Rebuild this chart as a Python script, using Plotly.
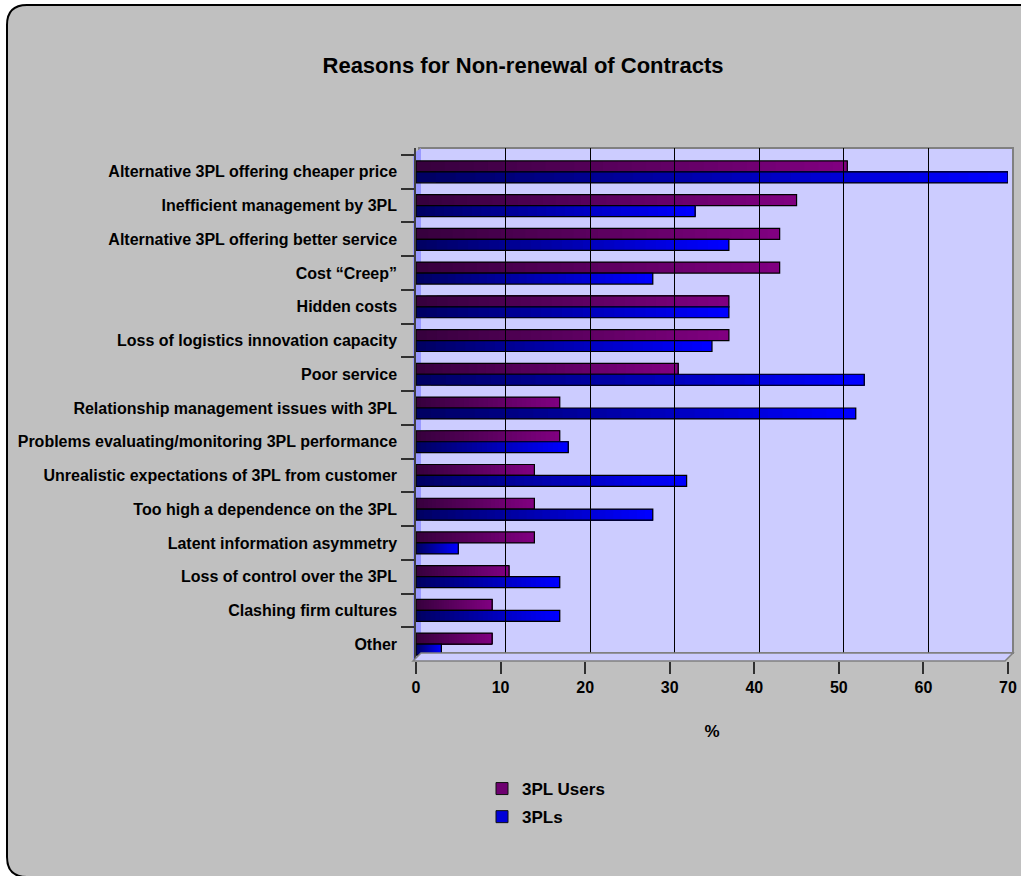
import plotly.graph_objects as go

# ---- data ---------------------------------------------------------------
reasons = [
    "Alternative 3PL offering cheaper price",
    "Inefficient management by 3PL",
    "Alternative 3PL offering better service",
    "Cost \u201cCreep\u201d",
    "Hidden costs",
    "Loss of logistics innovation capacity",
    "Poor service",
    "Relationship management issues with 3PL",
    "Problems evaluating/monitoring 3PL performance",
    "Unrealistic expectations of 3PL from customer",
    "Too high a dependence on the 3PL",
    "Latent information asymmetry",
    "Loss of control over the 3PL",
    "Clashing firm cultures",
    "Other",
]
users_pct = [51, 45, 43, 43, 37, 37, 31, 17, 17, 14, 14, 14, 11, 9, 9]
providers_pct = [70, 33, 37, 28, 37, 35, 53, 52, 18, 32, 28, 5, 17, 17, 3]
x_ticks = [0, 10, 20, 30, 40, 50, 60, 70]

series = [
    ("3PL Users", users_pct, (55, 0, 62), (128, 0, 128)),
    ("3PLs", providers_pct, (0, 0, 100), (0, 0, 255)),
]

# ---- page geometry (pixels) ---------------------------------------------
W_PAGE, H_PAGE = 1021, 876
PL, PR, PT, PB = 416, 1013, 148, 661      # plot-area box (incl. back wall)
FRONT_R = 1008                            # right end of the front value scale
WALL_DX = 5                               # depth offset of the back wall
WALL_B = 653                              # bottom edge of the back wall
FONT = "Arial, Liberation Sans, sans-serif"


def fx(px):
    return (px - PL) / (PR - PL)


def fy(py):
    return (PB - py) / (PB - PT)


def rgb(c):
    return "rgb(%d,%d,%d)" % c


def mix(a, b, t):
    return tuple(round(a[i] + (b[i] - a[i]) * t) for i in range(3))


fig = go.Figure()

# each bar is layered from overlapping pieces so its colour runs dark -> bright
N_SLICES = 30
for name, vals, dark, bright in series:
    for k in range(N_SLICES):
        t = k / (N_SLICES - 1)
        fig.add_trace(go.Bar(
            y=reasons,
            x=[v * (N_SLICES - k) / N_SLICES for v in vals],
            base=[v * k / N_SLICES for v in vals],
            orientation="h",
            offsetgroup=name,
            legendgroup=name,
            name=name,
            showlegend=False,
            marker=dict(color=rgb(mix(dark, bright, t)), line=dict(width=0)),
            hoverinfo="skip",
        ))
    # outline of the full bar
    fig.add_trace(go.Bar(
        y=reasons,
        x=vals,
        orientation="h",
        offsetgroup=name,
        legendgroup=name,
        name=name,
        showlegend=False,
        marker=dict(color="rgba(0,0,0,0)", line=dict(width=1.2, color="#000000")),
        hovertemplate="%{y}: %{x}%<extra>" + name + "</extra>",
    ))
    # legend swatch
    fig.add_trace(go.Bar(
        y=reasons,
        x=[None] * len(reasons),
        orientation="h",
        offsetgroup=name,
        legendgroup=name,
        name=name,
        showlegend=True,
        marker=dict(color=rgb(mix(dark, bright, 0.75)),
                    line=dict(width=1, color="#101010")),
        hoverinfo="skip",
    ))

# empty trace that carries the back-wall gridline axis
fig.add_trace(go.Scatter(x=[], y=[], xaxis="x2", yaxis="y", showlegend=False,
                         hoverinfo="skip"))

# ---- decoration: rounded chart frame, back wall, floor, left wall --------
r = 20
L, T, R, B = 7, 5, 1045, 877
frame = (
    f"M {fx(L)},{fy(T + r)} Q {fx(L)},{fy(T)} {fx(L + r)},{fy(T)} "
    f"L {fx(R - r)},{fy(T)} Q {fx(R)},{fy(T)} {fx(R)},{fy(T + r)} "
    f"L {fx(R)},{fy(B - r)} Q {fx(R)},{fy(B)} {fx(R - r)},{fy(B)} "
    f"L {fx(L + r)},{fy(B)} Q {fx(L)},{fy(B)} {fx(L)},{fy(B - r)} Z"
)
shapes = [
    dict(type="path", xref="paper", yref="paper", path=frame,
         fillcolor="#C0C0C0", line=dict(color="#000000", width=2), layer="below"),
    # back wall
    dict(type="rect", xref="paper", yref="paper",
         x0=fx(PL + 3), x1=fx(PR), y0=fy(WALL_B), y1=fy(PT),
         fillcolor="#CCCCFF", line=dict(color="#808080", width=2), layer="below"),
    # left wall
    dict(type="path", xref="paper", yref="paper",
         path=(f"M {fx(PL - 3)},{fy(PB)} L {fx(PL - 3)},{fy(PT + 6)} "
               f"L {fx(PL + 5)},{fy(PT)} L {fx(PL + 5)},{fy(WALL_B)} Z"),
         fillcolor="#9999FF", line=dict(width=0), layer="below"),
    # floor (in front of the gridline ends)
    dict(type="path", xref="paper", yref="paper",
         path=(f"M {fx(PL - 3)},{fy(PB)} L {fx(PL + 5)},{fy(WALL_B)} "
               f"L {fx(PR)},{fy(WALL_B)} L {fx(PR - 8)},{fy(PB)} Z"),
         fillcolor="#CCCCFF", line=dict(color="#808080", width=1.5), layer="above"),
]

front_frac = (FRONT_R - PL) / (PR - PL)
fig.update_layout(
    width=W_PAGE, height=H_PAGE, autosize=False,
    margin=dict(l=PL, r=W_PAGE - PR, t=PT, b=H_PAGE - PB, autoexpand=False),
    paper_bgcolor="#FFFFFF",
    plot_bgcolor="rgba(0,0,0,0)",
    barmode="group",
    bargap=0.35,
    bargroupgap=0.0,
    shapes=shapes,
    font=dict(family=FONT, color="#000000"),
    title=dict(
        text="Reasons for Non-renewal of Contracts",
        font=dict(family=FONT, size=22, weight="bold", color="#000000"),
        x=523 / W_PAGE, xanchor="center",
        y=1 - 65 / H_PAGE, yanchor="middle", yref="container",
    ),
    xaxis=dict(
        domain=[0, front_frac],
        range=[0, 70],
        tickvals=x_ticks,
        ticks="outside", ticklen=12, tickcolor="#303030", tickwidth=1.5,
        tickfont=dict(family=FONT, size=16, weight="bold"),
        showgrid=False,
        zeroline=False,
        showline=False,
        automargin=False,
        title=dict(text="%", font=dict(family=FONT, size=17, weight="bold"), standoff=29),
        fixedrange=True,
    ),
    xaxis2=dict(
        domain=[WALL_DX / (PR - PL), 1],
        anchor="y",
        range=[0, 70],
        tickvals=x_ticks[1:-1],
        showticklabels=False,
        ticks="",
        showgrid=True, gridcolor="#000000", gridwidth=1,
        zeroline=False,
        showline=False,
        automargin=False,
        fixedrange=True,
    ),
    yaxis=dict(
        type="category",
        range=[len(reasons) - 0.5, -0.5 - 7 / ((PB - PT - 7) / len(reasons))],
        tickson="boundaries",
        ticks="outside", ticklen=13, tickcolor="#303030", tickwidth=1.5,
        tickfont=dict(family=FONT, size=16, weight="bold"),
        ticklabelstandoff=14,
        showgrid=False,
        showline=True, linecolor="#404040", linewidth=1.5,
        automargin=False,
        fixedrange=True,
    ),
    legend=dict(
        x=fx(482), y=fy(771), xanchor="left", yanchor="top",
        bgcolor="rgba(0,0,0,0)",
        font=dict(family=FONT, size=17, weight="bold"),
        itemwidth=30,
        tracegroupgap=3,
        traceorder="grouped",
    ),
    showlegend=True,
)

fig.write_html("out.html")
